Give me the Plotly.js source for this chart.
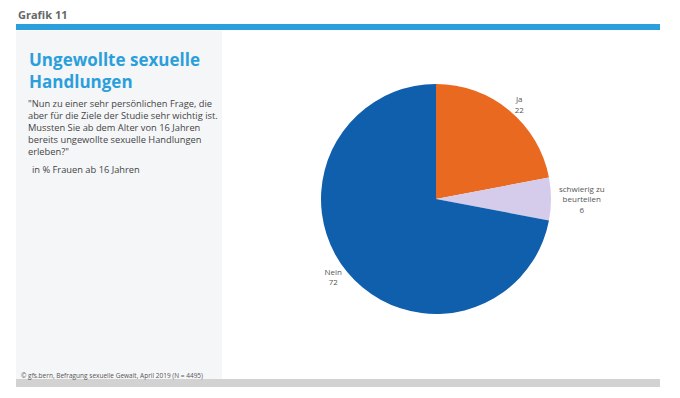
<!DOCTYPE html>
<html><head><meta charset="utf-8">
<script src="https://cdn.plot.ly/plotly-3.0.1.min.js"></script>
<style>html,body{margin:0;padding:0;background:#fff}#chart{width:680px;height:398px}</style>
</head><body><div id="chart"></div>
<script>
const categories = ["Ja", "schwierig zu<br>beurteilen", "Nein"];
const values = [22, 6, 72];
const colors = ["#e8691f", "#d5cbeb", "#0f5fad"];

const W = 680, H = 398;
const px = x => x / W, py = y => 1 - y / H;

const trace = {
  type: "pie",
  labels: categories,
  values: values,
  sort: false,
  direction: "clockwise",
  rotation: 0,
  marker: {colors: colors, line: {width: 0}},
  texttemplate: "%{label}<br>%{value}",
  textposition: "outside",
  textfont: {family: "Open Sans, sans-serif", size: 8, color: "#555"},
  outsidetextfont: {family: "Open Sans, sans-serif", size: 8, color: "#555"},
  hoverinfo: "none",
  showlegend: false,
  domain: {x: [px(321), px(551)], y: [py(314), py(84)]}
};

const layout = {
  width: W, height: H,
  margin: {l: 0, r: 0, t: 0, b: 0},
  paper_bgcolor: "#fff",
  showlegend: false,
  shapes: [
    {type: "rect", xref: "paper", yref: "paper", x0: px(16), x1: px(660), y0: py(30), y1: py(24), fillcolor: "#2b9fdb", line: {width: 0}, layer: "below"},
    {type: "rect", xref: "paper", yref: "paper", x0: px(16), x1: px(222), y0: py(379), y1: py(31), fillcolor: "#f5f6f8", line: {width: 0}, layer: "below"},
    {type: "rect", xref: "paper", yref: "paper", x0: px(16), x1: px(660), y0: py(387), y1: py(379), fillcolor: "#d2d2d2", line: {width: 0}, layer: "below"}
  ],
  annotations: [
    {text: "<b>Grafik 11</b>", xref: "paper", yref: "paper", x: px(16), y: py(14), xanchor: "left", yanchor: "middle", showarrow: false, font: {family: "Open Sans, sans-serif", size: 11, color: "#666"}},
    {text: "<b>Ungewollte sexuelle<br>Handlungen</b>", xref: "paper", yref: "paper", x: px(27), y: py(71), xanchor: "left", yanchor: "middle", align: "left", showarrow: false, font: {family: "Open Sans, sans-serif", size: 17, color: "#2b9fdb"}},
    {text: "\"Nun zu einer sehr persönlichen Frage, die<br>aber für die Ziele der Studie sehr wichtig ist.<br>Mussten Sie ab dem Alter von 16 Jahren<br>bereits ungewollte sexuelle Handlungen<br>erleben?\"", xref: "paper", yref: "paper", x: px(26), y: py(127), xanchor: "left", yanchor: "middle", align: "left", showarrow: false, font: {family: "Open Sans, sans-serif", size: 9.3, color: "#444"}},
    {text: "in % Frauen ab 16 Jahren", xref: "paper", yref: "paper", x: px(30), y: py(169), xanchor: "left", yanchor: "middle", align: "left", showarrow: false, font: {family: "Open Sans, sans-serif", size: 9.3, color: "#444"}},
    {text: "© gfs.bern, Befragung sexuelle Gewalt, April 2019 (N = 4495)", xref: "paper", yref: "paper", x: px(19), y: py(375), xanchor: "left", yanchor: "middle", align: "left", showarrow: false, font: {family: "Open Sans, sans-serif", size: 6.5, color: "#555"}}
  ]
};

Plotly.newPlot("chart", [trace], layout, {displayModeBar: false, staticPlot: true});
</script></body></html>
